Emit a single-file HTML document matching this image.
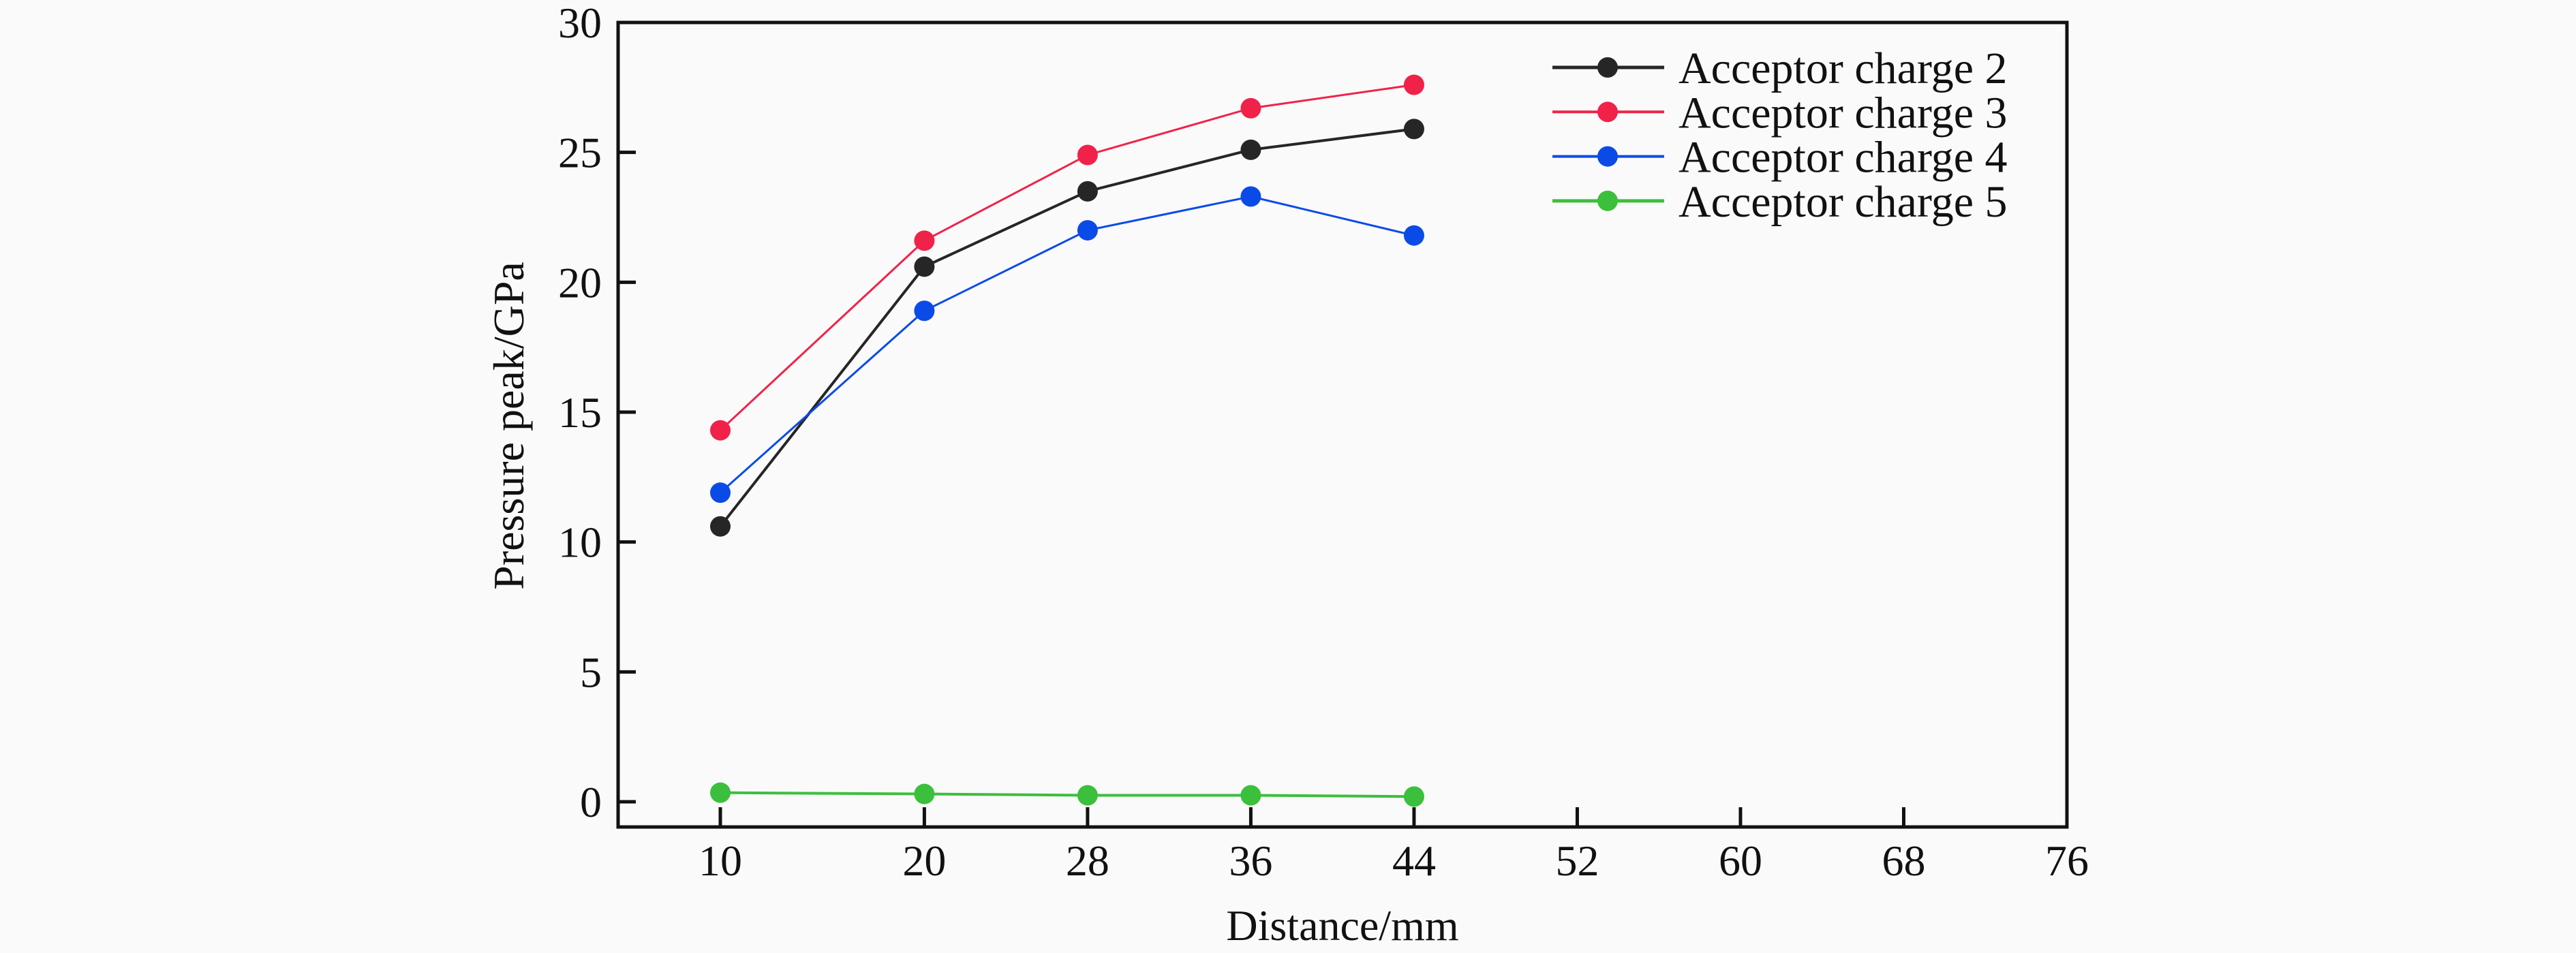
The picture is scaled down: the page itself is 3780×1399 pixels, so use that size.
<!DOCTYPE html>
<html><head><meta charset="utf-8"><style>
html,body{margin:0;padding:0;background:#fafafa;}
svg{display:block;font-family:"Liberation Serif",serif;}
</style></head><body>
<svg width="3780" height="1399" viewBox="0 0 3780 1399">
<rect x="0" y="0" width="3780" height="1399" fill="#fafafa"/>
<g id="plot"></g>
</svg>
<script>
const xTicks = [10, 20, 28, 36, 44, 52, 60, 68, 76];
const yTicks = [0, 5, 10, 15, 20, 25, 30];
const xCats = [10, 20, 28, 36, 44];
const charge2 = [10.6, 20.6, 23.5, 25.1, 25.9];
const charge3 = [14.3, 21.6, 24.9, 26.7, 27.6];
const charge4 = [11.9, 18.9, 22.0, 23.3, 21.8];
const charge5 = [0.35, 0.3, 0.25, 0.25, 0.2];
const seriesNames = ["Acceptor charge 2", "Acceptor charge 3", "Acceptor charge 4", "Acceptor charge 5"];

const L = 907, R = 3033, T = 33, B = 1214;
const yPix0 = 1177, yPerUnit = (1177 - 33) / 30;
function sx(v){ return 1057 + (v - 10) * (3033 - 1057) / 66; }
function sy(v){ return yPix0 - v * yPerUnit; }
const NS = "http://www.w3.org/2000/svg";
const g = document.getElementById('plot');
function mk(tag, attrs){ const e = document.createElementNS(NS, tag); for (const k in attrs) e.setAttribute(k, attrs[k]); g.appendChild(e); return e; }

let frame = mk('rect', {x:L, y:T, width:R-L, height:B-T, fill:'none', stroke:'#111', 'stroke-width':5});



xTicks.forEach(t => {
  const x = sx(t);
  const tk = mk('line', {x1:x, x2:x, y1:B, y2:B-29, stroke:'#111', 'stroke-width':5});
  
  
  const lb = mk('text', {x:x, y:1285, 'font-size':64, 'text-anchor':'middle', fill:'#111'});
  lb.textContent = t;
  
  
});
yTicks.forEach(t => {
  const y = sy(t);
  const tk = mk('line', {x1:L, x2:L+26, y1:y, y2:y, stroke:'#111', 'stroke-width':5});
  
  
  const lb = mk('text', {x:883, y:y+22, 'font-size':64, 'text-anchor':'end', fill:'#111'});
  lb.textContent = t;
  
  
});

let xt = mk('text', {x:1970, y:1380, 'font-size':64, 'text-anchor':'middle', fill:'#111'});
xt.textContent = 'Distance/mm';


let yt = mk('text', {x:0, y:0, 'font-size':64, 'text-anchor':'middle', fill:'#111', transform:'translate(768,625) rotate(-90)'});
yt.textContent = 'Pressure peak/GPa';



const allSeries = [charge2, charge3, charge4, charge5];
const colors = ['#262626', '#f0224a', '#0a4be8', '#3cbf3c'];
const widths = [4, 3, 3, 4];
allSeries.forEach((s, i) => {
  const pts = s.map((v, j) => sx(xCats[j]) + ',' + sy(v)).join(' ');
  const pl = mk('polyline', {points:pts, fill:'none', stroke:colors[i], 'stroke-width':widths[i]});
  
  
  s.forEach((v, j) => {
    const c = mk('circle', {cx:sx(xCats[j]), cy:sy(v), r:15, fill:colors[i]});
    
    
  });
  const ly = 99 + i * 65.3;
  const ll = mk('line', {x1:2278, x2:2442, y1:ly, y2:ly, stroke:colors[i], 'stroke-width':widths[i]+1});
  
  
  const lc = mk('circle', {cx:2359, cy:ly, r:15, fill:colors[i]});
  
  
  const lt = mk('text', {x:2463, y:ly+23, 'font-size':66, fill:'#111'});
  lt.textContent = seriesNames[i];
  
  
});
</script>
</body></html>
